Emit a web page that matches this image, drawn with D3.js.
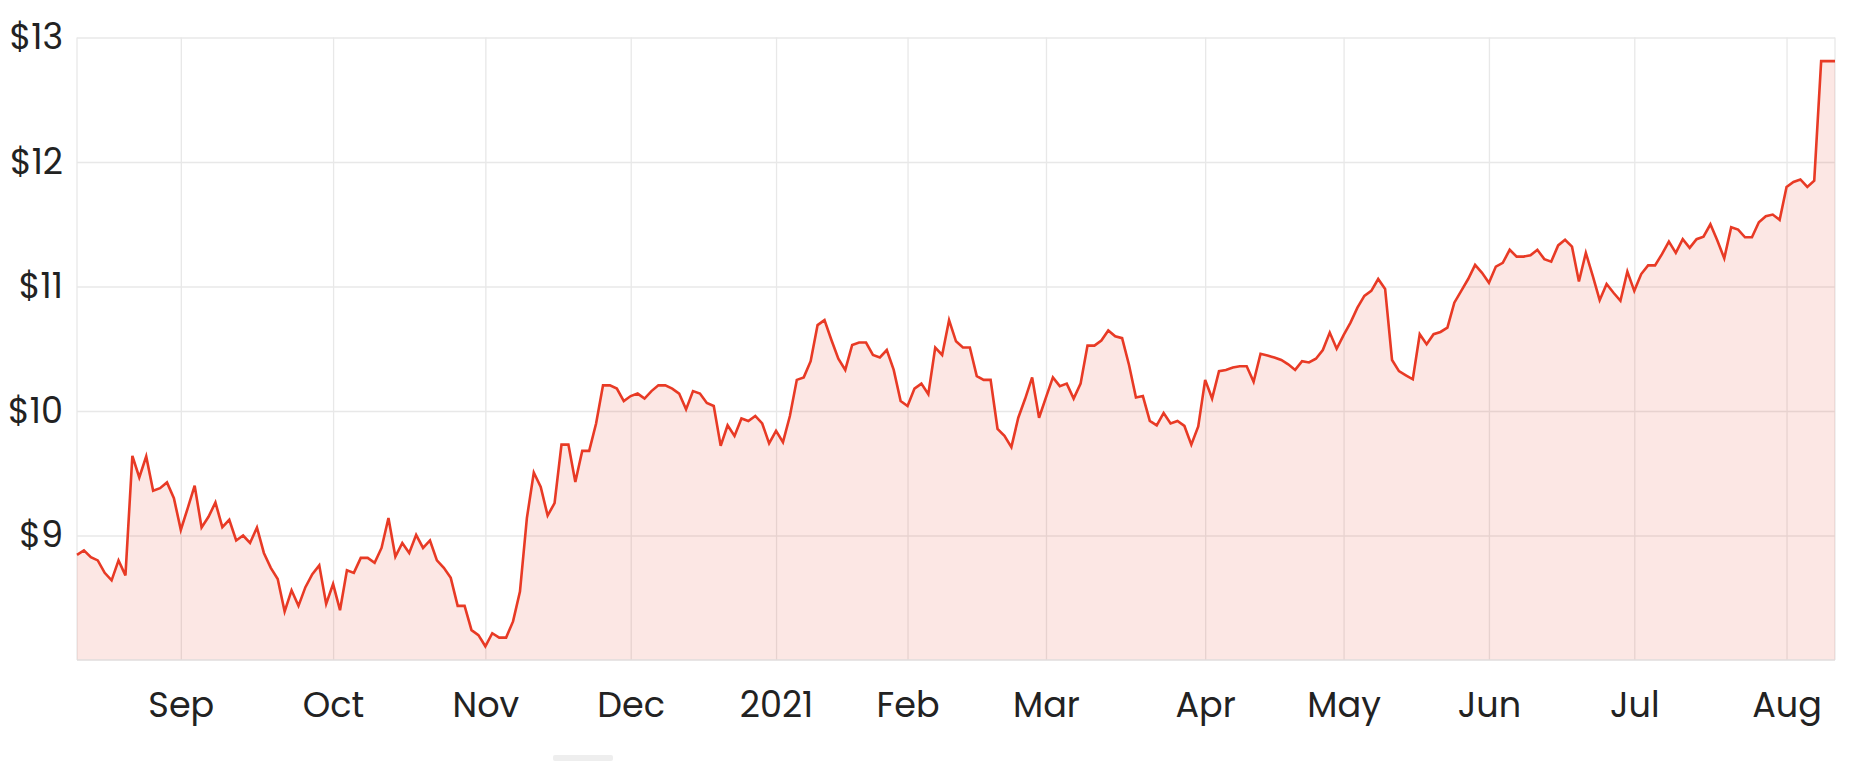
<!DOCTYPE html>
<html>
<head>
<meta charset="utf-8">
<script src="https://cdn.jsdelivr.net/npm/d3@7"></script>
<style>
  html, body { margin: 0; padding: 0; background: #fff; }
  svg text { font-family: Poppins, Inter, "Noto Sans", sans-serif; fill: #222; }
</style>
</head>
<body>
<svg id="chart" width="1859" height="761"></svg>
<script>
// ---- data ----
const startDate = "2020-08-11";
const endDate = "2021-08-11";
// ASX non-trading weekdays in the period
const holidays = ["2020-12-25", "2020-12-28", "2021-01-01", "2021-01-26", "2021-04-02", "2021-04-05", "2021-06-14"];
// daily closing prices, one per trading day
const prices = [
  8.845, 8.88, 8.826, 8.80, 8.70, 8.64, 8.80, 8.68, 9.64, 9.466,
  9.635, 9.36, 9.38, 9.426, 9.30, 9.045, 9.22, 9.40, 9.064, 9.15,
  9.265, 9.067, 9.126, 8.96, 9.00, 8.94, 9.064, 8.86, 8.74, 8.65,
  8.39, 8.56, 8.435, 8.585, 8.69, 8.76, 8.45, 8.61, 8.40, 8.72,
  8.70, 8.82, 8.82, 8.78, 8.90, 9.14, 8.83, 8.94, 8.86, 9.005,
  8.90, 8.96, 8.80, 8.74, 8.66, 8.435, 8.435, 8.24, 8.20, 8.11,
  8.215, 8.18, 8.18, 8.31, 8.55, 9.14, 9.506, 9.39, 9.16, 9.26,
  9.73, 9.73, 9.43, 9.68, 9.68, 9.90, 10.206, 10.206, 10.18, 10.08,
  10.12, 10.14, 10.10, 10.16, 10.206, 10.206, 10.18, 10.14, 10.013, 10.16,
  10.14, 10.064, 10.04, 9.72, 9.885, 9.80, 9.94, 9.92, 9.96, 9.90,
  9.74, 9.84, 9.75, 9.96, 10.25, 10.27, 10.40, 10.69, 10.73, 10.57,
  10.42, 10.33, 10.53, 10.55, 10.55, 10.45, 10.43, 10.49, 10.33, 10.08,
  10.04, 10.18, 10.22, 10.135, 10.51, 10.45, 10.73, 10.56, 10.51, 10.51,
  10.28, 10.25, 10.25, 9.857, 9.80, 9.71, 9.946, 10.10, 10.27, 9.946,
  10.11, 10.27, 10.20, 10.22, 10.10, 10.22, 10.525, 10.525, 10.566, 10.647,
  10.60, 10.585, 10.37, 10.108, 10.12, 9.92, 9.884, 9.984, 9.90, 9.92,
  9.88, 9.73, 9.876, 10.25, 10.10, 10.32, 10.33, 10.35, 10.36, 10.36,
  10.235, 10.46, 10.445, 10.43, 10.41, 10.375, 10.33, 10.40, 10.39, 10.42,
  10.49, 10.63, 10.50, 10.61, 10.71, 10.83, 10.925, 10.965, 11.06, 10.98,
  10.41, 10.32, 10.287, 10.255, 10.617, 10.536, 10.617, 10.635, 10.67, 10.87,
  10.965, 11.06, 11.174, 11.11, 11.03, 11.16, 11.19, 11.295, 11.24, 11.24,
  11.25, 11.295, 11.22, 11.20, 11.33, 11.375, 11.32, 11.04, 11.27, 11.086,
  10.89, 11.02, 10.95, 10.885, 11.12, 10.965, 11.10, 11.17, 11.17, 11.26,
  11.36, 11.27, 11.38, 11.31, 11.38, 11.40, 11.50, 11.37, 11.226, 11.476,
  11.457, 11.395, 11.395, 11.516, 11.565, 11.578, 11.535, 11.80, 11.84, 11.86,
  11.80, 11.85, 12.81, 12.81, 12.81
];
const yTicks = [9, 10, 11, 12, 13];
const yDomain = [8, 13];

// ---- layout ----
const m = { left: 77, right: 1835, top: 37.5, bottom: 660 };
const FS = 35;

const parse = d3.timeParse("%Y-%m-%d");
const fmt = d3.timeFormat("%Y-%m-%d");
const hol = new Set(holidays);
const dates = d3.timeDay
  .range(parse(startDate), d3.timeDay.offset(parse(endDate), 1))
  .filter(d => d.getDay() !== 0 && d.getDay() !== 6 && !hol.has(fmt(d)));

const data = dates.map((d, i) => ({ key: fmt(d), date: d, value: prices[i] }))
  .filter(d => d.value !== undefined);

const x = d3.scalePoint().domain(data.map(d => d.key)).range([m.left, m.right]).padding(0);
const y = d3.scaleLinear().domain(yDomain).range([m.bottom, m.top]);

// first trading day of each month (after the first month)
const monthStarts = data.filter((d, i) => i > 0 && d.date.getMonth() !== data[i - 1].date.getMonth());
const monthLabel = k => {
  const d = parse(k);
  return d.getMonth() === 0 ? d3.timeFormat("%Y")(d) : d3.timeFormat("%b")(d);
};

const svg = d3.select("#chart");

// horizontal gridlines
svg.append("g")
  .attr("transform", `translate(${m.left},0)`)
  .call(d3.axisLeft(y).tickValues(yTicks).tickSize(-(m.right - m.left)).tickFormat(""))
  .call(g => g.select(".domain").remove())
  .call(g => g.selectAll("line").attr("stroke", "#e8e8e8").attr("stroke-width", 1.3));

// vertical gridlines
svg.append("g")
  .attr("transform", `translate(0,${m.bottom})`)
  .call(d3.axisBottom(x).tickValues(monthStarts.map(d => d.key)).tickSize(-(m.bottom - m.top)).tickFormat(""))
  .call(g => g.select(".domain").remove())
  .call(g => g.selectAll("line").attr("stroke", "#e8e8e8").attr("stroke-width", 1.3));

// side borders
svg.append("g").selectAll("line").data([m.left, m.right]).join("line")
  .attr("x1", d => d).attr("x2", d => d).attr("y1", m.top).attr("y2", m.bottom)
  .attr("stroke", "#e8e8e8").attr("stroke-width", 1.3);

// area + line
const area = d3.area().x(d => x(d.key)).y0(y(yDomain[0])).y1(d => y(d.value));
const line = d3.line().x(d => x(d.key)).y(d => y(d.value));

svg.append("path").datum(data).attr("d", area)
  .attr("fill", "rgba(232, 58, 37, 0.12)");

// bottom baseline
svg.append("line")
  .attr("x1", m.left).attr("x2", m.right).attr("y1", m.bottom).attr("y2", m.bottom)
  .attr("stroke", "#e0dcdc").attr("stroke-width", 1.5);

svg.append("path").datum(data).attr("d", line)
  .attr("fill", "none").attr("stroke", "#e83a25").attr("stroke-width", 2.6)
  .attr("stroke-linejoin", "miter").attr("stroke-miterlimit", 4);

// y axis labels
svg.append("g")
  .attr("transform", `translate(${m.left},0)`)
  .call(d3.axisLeft(y).tickValues(yTicks).tickSize(0).tickPadding(14).tickFormat(d => "$" + d))
  .call(g => g.select(".domain").remove())
  .call(g => g.selectAll("text").attr("font-size", FS).attr("fill", "#222"));

// x axis labels
svg.append("g")
  .attr("transform", `translate(0,${m.bottom})`)
  .call(d3.axisBottom(x).tickValues(monthStarts.map(d => d.key)).tickSize(0).tickPadding(32).tickFormat(monthLabel))
  .call(g => g.select(".domain").remove())
  .call(g => g.selectAll("text").attr("font-size", FS).attr("fill", "#222"));

// small scrollbar thumb at the bottom
svg.append("rect").attr("x", 553).attr("y", 755).attr("width", 60).attr("height", 6)
  .attr("rx", 2).attr("fill", "#eeeeee");
</script>
</body>
</html>
